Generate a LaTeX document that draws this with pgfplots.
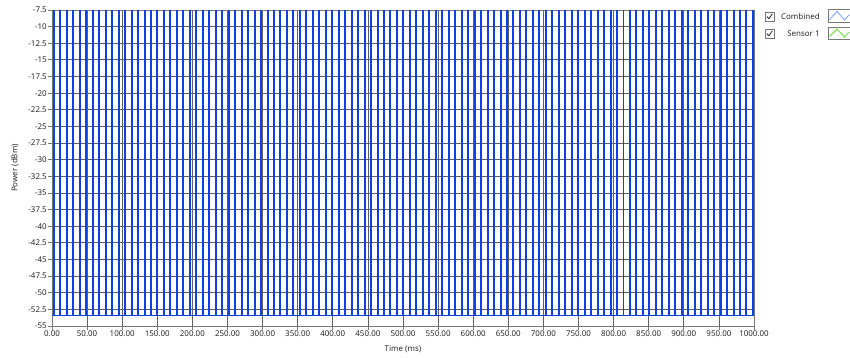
\documentclass[border=0pt]{standalone}
\usepackage{pgfplots}
\pgfplotsset{compat=1.18}
\usepackage{fontspec}
\setmainfont{Noto Sans}
\definecolor{pulseblue}{RGB}{14,64,228}
\definecolor{gridgray}{RGB}{96,96,96}
\definecolor{framegray}{RGB}{120,120,120}
\definecolor{textgray}{RGB}{40,40,40}
\definecolor{swatchblue}{RGB}{120,160,255}
\definecolor{swatchgreen}{RGB}{100,220,40}
\begin{document}
\begin{tikzpicture}[font=\fontsize{8}{9.6}\selectfont, x=1bp, y=1bp]
\begin{axis}[
  scale only axis,
  width=702bp, height=316bp,
  at={(0,0)}, anchor=south west,
  xmin=0, xmax=1000,
  ymin=-55, ymax=-7.5,
  xtick={0,50,...,1000},
  ytick={-55,-52.5,-50,-47.5,-45,-42.5,-40,-37.5,-35,-32.5,-30,-27.5,-25,-22.5,-20,-17.5,-15,-12.5,-10,-7.5},
  xticklabel={\pgfmathprintnumber[fixed,fixed zerofill,precision=2,1000 sep={}]{\tick}},
  /pgf/number format/assume math mode=true,
  tick align=outside,
  major tick length=4bp,
  xtick pos=bottom, ytick pos=left,
  tick style={draw=framegray, line width=0.8bp},
  axis line style={draw=framegray, line width=0.8bp},
  grid=major,
  major grid style={draw=gridgray, line width=0.8bp},
  ticklabel style={text=textgray, font=\fontsize{8}{9.6}\selectfont},
  yticklabel style={inner sep=1bp},
  xticklabel style={inner sep=1bp},
  xlabel={Time (ms)},
  ylabel={Power (dBm)},
  xlabel style={at={(axis description cs:0.5,-0.073)}, anchor=center, text=textgray},
  ylabel style={at={(axis description cs:-0.0527,0.5)}, anchor=center, text=textgray},
]
% pulse train: rising edge at the first time, falling edge at the second
\addplot[const plot mark left, draw=pulseblue, line width=1bp, no markers] coordinates {
(0,-53.4)
(2.0,-7.6) (3.4,-53.4)
(11.2,-7.6) (12.6,-53.4)
(20.4,-7.6) (21.8,-53.4)
(29.7,-7.6) (31.1,-53.4)
(38.9,-7.6) (40.3,-53.4)
(48.1,-7.6) (49.5,-53.4)
(57.3,-7.6) (58.7,-53.4)
(66.5,-7.6) (67.9,-53.4)
(75.8,-7.6) (77.2,-53.4)
(85.0,-7.6) (86.4,-53.4)
(94.2,-7.6) (95.6,-53.4)
(103.4,-7.6) (104.8,-53.4)
(112.6,-7.6) (114.0,-53.4)
(121.9,-7.6) (123.3,-53.4)
(131.1,-7.6) (132.5,-53.4)
(140.3,-7.6) (141.7,-53.4)
(149.5,-7.6) (150.9,-53.4)
(158.7,-7.6) (160.1,-53.4)
(168.0,-7.6) (169.4,-53.4)
(177.2,-7.6) (178.6,-53.4)
(186.4,-7.6) (187.8,-53.4)
(195.6,-7.6) (197.0,-53.4)
(204.8,-7.6) (206.2,-53.4)
(214.1,-7.6) (215.5,-53.4)
(223.3,-7.6) (224.7,-53.4)
(232.5,-7.6) (233.9,-53.4)
(241.7,-7.6) (243.1,-53.4)
(250.9,-7.6) (252.3,-53.4)
(260.2,-7.6) (261.6,-53.4)
(269.4,-7.6) (270.8,-53.4)
(278.6,-7.6) (280.0,-53.4)
(287.8,-7.6) (289.2,-53.4)
(297.0,-7.6) (298.4,-53.4)
(306.3,-7.6) (307.7,-53.4)
(315.5,-7.6) (316.9,-53.4)
(324.7,-7.6) (326.1,-53.4)
(333.9,-7.6) (335.3,-53.4)
(343.1,-7.6) (344.5,-53.4)
(352.4,-7.6) (353.8,-53.4)
(361.6,-7.6) (363.0,-53.4)
(370.8,-7.6) (372.2,-53.4)
(380.0,-7.6) (381.4,-53.4)
(389.2,-7.6) (390.6,-53.4)
(398.5,-7.6) (399.9,-53.4)
(407.7,-7.6) (409.1,-53.4)
(416.9,-7.6) (418.3,-53.4)
(426.1,-7.6) (427.5,-53.4)
(435.3,-7.6) (436.7,-53.4)
(444.6,-7.6) (446.0,-53.4)
(453.8,-7.6) (455.2,-53.4)
(463.0,-7.6) (464.4,-53.4)
(472.2,-7.6) (473.6,-53.4)
(481.4,-7.6) (482.8,-53.4)
(490.7,-7.6) (492.1,-53.4)
(499.9,-7.6) (501.3,-53.4)
(509.1,-7.6) (510.5,-53.4)
(518.3,-7.6) (519.7,-53.4)
(527.5,-7.6) (528.9,-53.4)
(536.8,-7.6) (538.2,-53.4)
(546.0,-7.6) (547.4,-53.4)
(555.2,-7.6) (556.6,-53.4)
(564.4,-7.6) (565.8,-53.4)
(573.6,-7.6) (575.0,-53.4)
(582.9,-7.6) (584.3,-53.4)
(592.1,-7.6) (593.5,-53.4)
(601.3,-7.6) (602.7,-53.4)
(610.5,-7.6) (611.9,-53.4)
(619.7,-7.6) (621.1,-53.4)
(629.0,-7.6) (630.4,-53.4)
(638.2,-7.6) (639.6,-53.4)
(647.4,-7.6) (648.8,-53.4)
(656.6,-7.6) (658.0,-53.4)
(665.8,-7.6) (667.2,-53.4)
(675.1,-7.6) (676.5,-53.4)
(684.3,-7.6) (685.7,-53.4)
(693.5,-7.6) (694.9,-53.4)
(702.7,-7.6) (704.1,-53.4)
(711.9,-7.6) (713.3,-53.4)
(721.2,-7.6) (722.6,-53.4)
(730.4,-7.6) (731.8,-53.4)
(739.6,-7.6) (741.0,-53.4)
(748.8,-7.6) (750.2,-53.4)
(758.0,-7.6) (759.4,-53.4)
(767.3,-7.6) (768.7,-53.4)
(776.5,-7.6) (777.9,-53.4)
(785.7,-7.6) (787.1,-53.4)
(794.9,-7.6) (796.3,-53.4)
(804.1,-7.6) (805.5,-53.4)
(813.4,-7.6) (814.8,-53.4)
(822.6,-7.6) (824.0,-53.4)
(831.8,-7.6) (833.2,-53.4)
(841.0,-7.6) (842.4,-53.4)
(850.2,-7.6) (851.6,-53.4)
(859.5,-7.6) (860.9,-53.4)
(868.7,-7.6) (870.1,-53.4)
(877.9,-7.6) (879.3,-53.4)
(887.1,-7.6) (888.5,-53.4)
(896.3,-7.6) (897.7,-53.4)
(905.6,-7.6) (907.0,-53.4)
(914.8,-7.6) (916.2,-53.4)
(924.0,-7.6) (925.4,-53.4)
(933.2,-7.6) (934.6,-53.4)
(942.4,-7.6) (943.8,-53.4)
(951.7,-7.6) (953.1,-53.4)
(960.9,-7.6) (962.3,-53.4)
(970.1,-7.6) (971.5,-53.4)
(979.3,-7.6) (980.7,-53.4)
(988.5,-7.6) (989.9,-53.4)
(997.8,-7.6) (999.2,-53.4)
(1000,-53.4)
};
\end{axis}
% plot legend with checkboxes and line swatches
\begin{scope}[line width=0.7bp]
  % row 1: Combined
  \draw[draw=framegray, fill=white] (713bp,305bp) rectangle (722bp,314bp);
  \draw[draw=textgray, line width=0.8bp] (714.8bp,309.5bp) -- (716.9bp,307.2bp) -- (720.4bp,312.3bp);
  \node[anchor=east, text=textgray, inner sep=0pt] at (768bp,309.8bp) {Combined};
  \draw[draw=framegray, fill=white] (776bp,304bp) rectangle (798bp,317bp);
  \draw[draw=swatchblue, line width=0.8bp] (777.5bp,306.5bp) -- (785bp,314.5bp) -- (792.5bp,306bp) -- (797bp,311bp);
  % row 2: Sensor 1
  \draw[draw=framegray, fill=white] (713bp,288bp) rectangle (722bp,297bp);
  \draw[draw=textgray, line width=0.8bp] (714.8bp,292.5bp) -- (716.9bp,290.2bp) -- (720.4bp,295.3bp);
  \node[anchor=east, text=textgray, inner sep=0pt] at (768bp,292.8bp) {Sensor 1};
  \draw[draw=framegray, fill=white] (776bp,287bp) rectangle (798bp,299bp);
  \draw[draw=swatchgreen, line width=0.8bp] (777.5bp,289.5bp) -- (785bp,297bp) -- (792.5bp,289bp) -- (797bp,294bp);
\end{scope}
\pgfresetboundingbox
\useasboundingbox (-52bp,-32bp) rectangle (798bp,326bp);
\end{tikzpicture}
\end{document}
